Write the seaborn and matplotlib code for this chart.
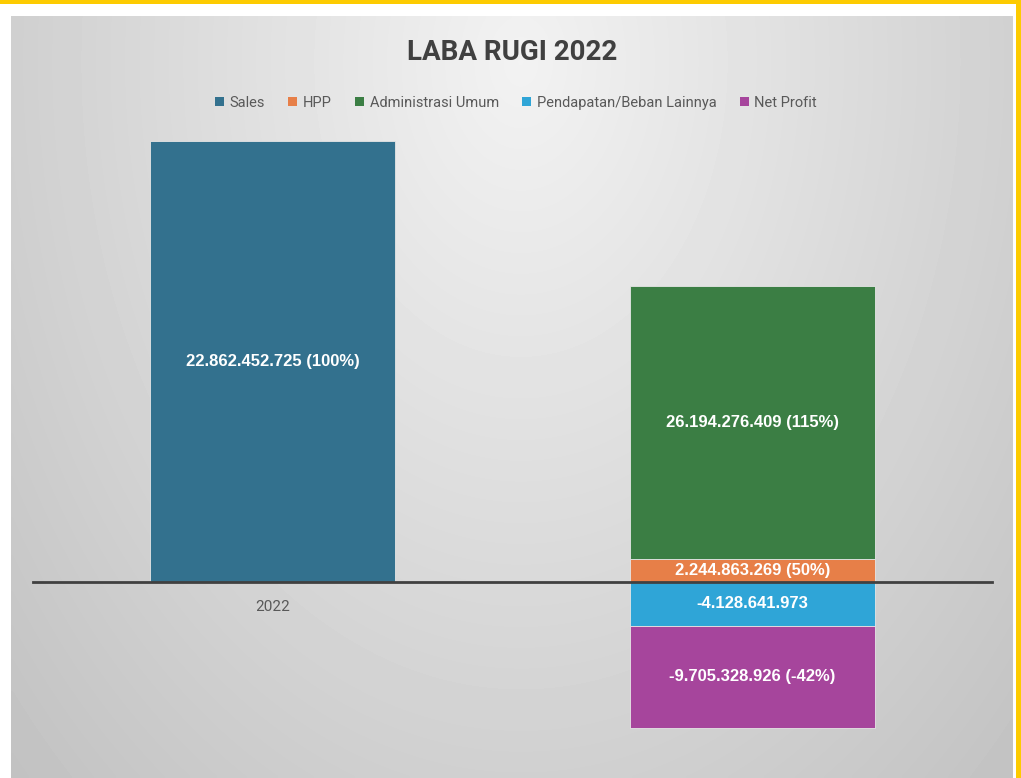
import numpy as np
import pandas as pd
import seaborn as sns
import matplotlib
import matplotlib.pyplot as plt
from matplotlib.patches import Patch, Rectangle

sns.set_style('white')
matplotlib.rcParams['font.family'] = ['Roboto', 'DejaVu Sans']

# data (bar heights in billions as drawn, labels as printed on the chart)
series = ["Sales", "HPP", "Administrasi Umum", "Pendapatan/Beban Lainnya", "Net Profit"]
bar_cat = ["2022", " ", " ", " ", " "]
heights = [22.86, 1.19, 14.15, -2.28, -5.29]
labels = ["22.862.452.725 (100%)", "2.244.863.269 (50%)", "26.194.276.409 (115%)",
          "-4.128.641.973", "-9.705.328.926 (-42%)"]
colors = ["#33718e", "#e77f48", "#3b7e44", "#2fa5d7", "#a6459c"]
cats = ["2022", " "]

# stack positives and negatives separately per bar
bottoms = []
pos = {c: 0.0 for c in cats}
neg = {c: 0.0 for c in cats}
for c, h in zip(bar_cat, heights):
    if h >= 0:
        bottoms.append(pos[c])
        pos[c] += h
    else:
        bottoms.append(neg[c])
        neg[c] += h

df = pd.DataFrame({"series": series, "cat": bar_cat, "value": heights,
                   "bottom": bottoms, "label": labels, "color": colors})

fig = plt.figure(figsize=(10.21, 7.78), dpi=100)
fig.patch.set_facecolor('white')

# background: yellow frame + grey radial panel
bg = fig.add_axes([0, 0, 1, 1], zorder=0)
bg.set_xlim(0, 1021)
bg.set_ylim(778, 0)
bg.axis('off')
yy, xx = np.mgrid[16:778:4, 11:1012:4]
r = np.sqrt(((xx - 520) / 560.0) ** 2 + ((yy - 60) / 800.0) ** 2)
grad = 0.95 - 0.15 * r
bg.imshow(grad, cmap='gray', vmin=0, vmax=1, extent=(11, 1012, 778, 16),
          aspect='auto', interpolation='bilinear')
bg.add_patch(Rectangle((0, 0), 1021, 3.5, color='#fdcb00', lw=0))
bg.add_patch(Rectangle((1016, 0), 5, 778, color='#fdcb00', lw=0))

ax = fig.add_axes([33 / 1021, 13 / 778, 959 / 1021, 624 / 778], zorder=1)
ax.patch.set_alpha(0)

for _, row in df.iterrows():
    sns.barplot(x=[row["cat"]], y=[row["value"]], order=cats, color=row["color"],
                width=0.51, bottom=row["bottom"], errorbar=None, ax=ax,
                edgecolor='#e6e6e6', linewidth=0.6, saturation=1)
    ax.bar_label(ax.containers[-1], labels=[row["label"]], label_type='center',
                 color='white', fontsize=12, fontweight='bold',
                 family=['Liberation Sans', 'DejaVu Sans'])

ax.set_xlim(-0.5, 1.5)
ax.set_ylim(-9.5, 22.86)
for s in ['top', 'right', 'left']:
    ax.spines[s].set_visible(False)
ax.spines['bottom'].set_position(('data', 0))
ax.spines['bottom'].set_color('#404040')
ax.spines['bottom'].set_linewidth(2)
ax.spines['bottom'].set_zorder(3)
ax.set_yticks([])
ax.set_xticks([0])
ax.set_xticklabels(["2022"])
ax.tick_params(axis='x', length=0, pad=13, labelsize=11, labelcolor='#595959')
ax.set_xlabel('')
ax.set_ylabel('')

fig.text(512 / 1021, 1 - 52 / 778, "LABA RUGI 2022", ha='center', va='center',
         fontsize=20, fontweight='bold', color='#404040')

handles = [Patch(facecolor=c, edgecolor='none') for c in colors]
fig.legend(handles, series, loc='center', bbox_to_anchor=(516 / 1021, 1 - 103 / 778),
           ncol=5, frameon=False, fontsize=10.5, handlelength=0.6, handleheight=0.6,
           handletextpad=0.4, columnspacing=1.6, labelcolor='#595959')

fig.savefig('out.png', dpi=100)
